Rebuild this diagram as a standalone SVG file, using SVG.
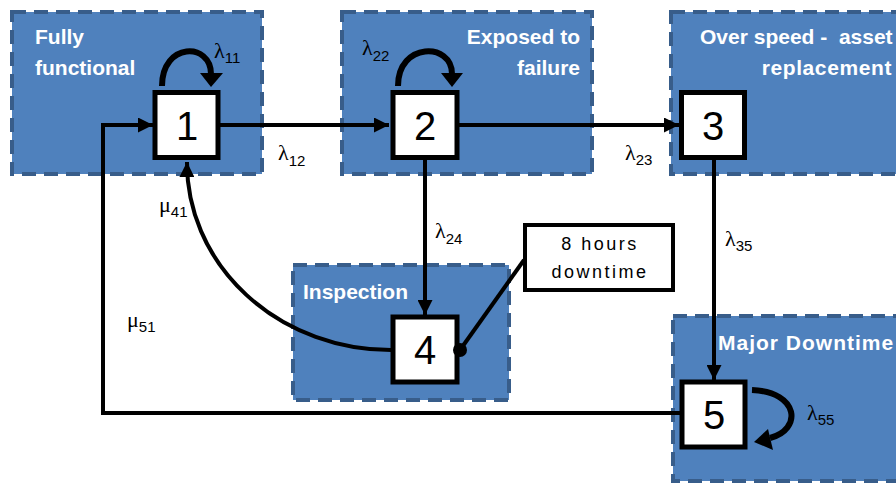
<svg xmlns="http://www.w3.org/2000/svg" width="896" height="483" viewBox="0 0 896 483">
<defs>
<style>
.zone{fill:#4f81bd;stroke:#385d8a;stroke-width:4;stroke-dasharray:14 8}
.node{fill:#fff;stroke:#000;stroke-width:5}
.num{font-family:"Liberation Sans",Arial,sans-serif;font-size:40px;fill:#000;text-anchor:middle}
.title{font-family:"Liberation Sans",Arial,sans-serif;font-size:21px;font-weight:bold;fill:#fff}
.conn{fill:none;stroke:#000;stroke-width:4}
.loop{fill:none;stroke:#000;stroke-width:6}
.lab{font-family:"Liberation Serif","Times New Roman",serif;font-size:22px;fill:#000}
.sub{font-family:"Liberation Sans",Arial,sans-serif;font-size:15px}
.note{font-family:"Liberation Sans",Arial,sans-serif;font-size:18px;letter-spacing:2.5px;fill:#000;text-anchor:middle}
</style>
<marker id="arr" viewBox="0 0 12 12" refX="12" refY="6" markerWidth="15" markerHeight="15" markerUnits="userSpaceOnUse" orient="auto">
<path d="M0,0 L12,6 L0,12 z" fill="#000"/>
</marker>
</defs>

<g id="zones">
<rect id="zone-fully" class="zone" x="12" y="12" width="250" height="162"/>
<rect id="zone-exposed" class="zone" x="342" y="12" width="250" height="162"/>
<rect id="zone-overspeed" class="zone" x="671" y="12" width="240" height="162"/>
<rect id="zone-inspection" class="zone" x="293" y="265" width="216" height="135"/>
<rect id="zone-major" class="zone" x="673" y="316" width="240" height="165"/>
<text class="title" x="35" y="44">Fully</text>
<text class="title" x="35" y="75">functional</text>
<text class="title" x="580" y="44" text-anchor="end">Exposed to</text>
<text class="title" x="580" y="75" text-anchor="end">failure</text>
<text class="title" x="700" y="44">Over speed -&#160; asset</text>
<text class="title" x="892" y="75" text-anchor="end" letter-spacing="0.6">replacement</text>
<text class="title" x="303" y="299">Inspection</text>
<text class="title" x="718" y="350" letter-spacing="1">Major Downtime</text>
</g>

<g id="connectors">
<path class="conn" d="M220,125 H389" marker-end="url(#arr)"/>
<path class="conn" d="M459,125 H679" marker-end="url(#arr)"/>
<path class="conn" d="M425,160 V315" marker-end="url(#arr)"/>
<path class="conn" d="M714,160 V380" marker-end="url(#arr)"/>
<path class="conn" d="M680,413 H103 V125 H153" marker-end="url(#arr)"/>
<path class="conn" d="M391,350 A204 187 0 0 1 187,162" marker-end="url(#arr)"/>
<path class="conn" d="M460,350 L524,260"/>
<path class="loop" d="M162,86 C162,42 211,42 211,74"/>
<polygon points="200,73 223,73 211,87" fill="#000"/>
<path class="loop" d="M398,86 C398,42 452,42 452,74"/>
<polygon points="441,73 463,73 452,87" fill="#000"/>
<path class="loop" d="M752,390 C800,392 802,430 770,438"/>
<polygon points="754,442 768,429 773,450" fill="#000"/>
</g>

<g id="labels">
<text class="lab" x="214" y="58">λ<tspan class="sub" dy="5">11</tspan></text>
<text class="lab" x="362" y="55">λ<tspan class="sub" dy="6">22</tspan></text>
<text class="lab" x="278" y="160">λ<tspan class="sub" dy="6">12</tspan></text>
<text class="lab" x="625" y="160">λ<tspan class="sub" dy="5">23</tspan></text>
<text class="lab" x="435" y="238">λ<tspan class="sub" dy="6">24</tspan></text>
<text class="lab" x="725" y="246">λ<tspan class="sub" dy="5">35</tspan></text>
<text class="lab" x="807" y="420">λ<tspan class="sub" dy="5">55</tspan></text>
<text class="lab" x="159" y="212">μ<tspan class="sub" dy="5">41</tspan></text>
<text class="lab" x="127" y="327">μ<tspan class="sub" dy="5">51</tspan></text>
</g>

<g id="node1"><rect class="node" x="155" y="92.5" width="63" height="65"/><text class="num" x="187" y="140">1</text></g>
<g id="node2"><rect class="node" x="393" y="92.5" width="64" height="65"/><text class="num" x="425" y="140">2</text></g>
<g id="node3"><rect class="node" x="681.5" y="92.5" width="63" height="65"/><text class="num" x="713" y="140">3</text></g>
<g id="node4"><rect class="node" x="393" y="317" width="64" height="65"/><text class="num" x="425" y="364">4</text></g>
<g id="node5"><rect class="node" x="682" y="382" width="63" height="65"/><text class="num" x="714" y="429">5</text></g>
<g id="note"><rect x="525" y="225" width="148" height="65" fill="#fff" stroke="#000" stroke-width="4"/>
<text class="note" x="600" y="250">8 hours</text>
<text class="note" x="600" y="278">downtime</text></g>
<circle id="note-anchor" cx="460" cy="350" r="7" fill="#000"/>
</svg>
